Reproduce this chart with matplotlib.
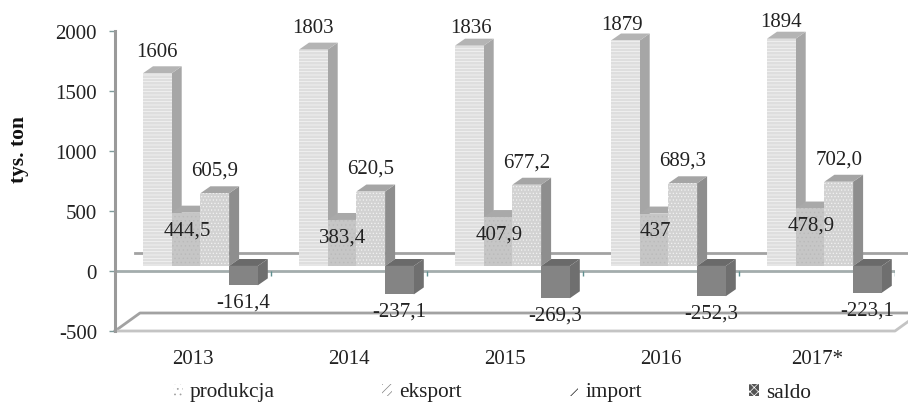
import matplotlib
matplotlib.use("Agg")
import matplotlib.pyplot as plt
from matplotlib.patches import Patch, Polygon
from matplotlib.transforms import ScaledTranslation

plt.rcParams["font.family"] = ["Liberation Serif", "DejaVu Serif"]
plt.rcParams["axes.unicode_minus"] = False
plt.rcParams["hatch.linewidth"] = 0.5

# Data
years = ["2013", "2014", "2015", "2016", "2017*"]
produkcja = [1606, 1803, 1836, 1879, 1894]
eksport = [444.5, 383.4, 407.9, 437, 478.9]
imports = [605.9, 620.5, 677.2, 689.3, 702.0]
saldo = [-161.4, -237.1, -269.3, -252.3, -223.1]

produkcja_labels = ["1606", "1803", "1836", "1879", "1894"]
eksport_labels = ["444,5", "383,4", "407,9", "437", "478,9"]
import_labels = ["605,9", "620,5", "677,2", "689,3", "702,0"]
saldo_labels = ["-161,4", "-237,1", "-269,3", "-252,3", "-223,1"]

series_names = ["produkcja", "eksport", "import", "saldo"]

W, H = 908, 403
fig = plt.figure(figsize=(W / 100, H / 100), dpi=100)
ax = fig.add_axes([115 / W, 1 - 331 / H, 780 / W, 300 / H])
ax.set_xlim(0, 5)
ax.set_ylim(-500, 2000)

# 3D look
bar_w = 28.7 / 156
gap = 28 / 156
base = 42
depth_x = 10 / 156
depth_y = 58
wall_x = 25 / 156
wall_y = 150

styles = [
    dict(face="#dedede", hatch="-----", edge="#f6f6f6", side="#a6a6a6", top="#b4b4b4"),
    dict(face="#c6c6c6", hatch="....", edge="#bababa", side="#a3a3a3", top="#a9a9a9"),
    dict(face="#d2d2d2", hatch=".....", edge="#f2f2f2", side="#8e8e8e", top="#a5a5a5"),
    dict(face="#848484", hatch=None, edge="#7c7c7c", side="#6f6f6f", top="#6a6a6a"),
]
legend_faces = ["white", "white", "white", "#555555"]
legend_hatch = [("...", "#a0a0a0"), ("////", "#808080"), ("//", "#111111"), ("xxxx", "#ffffff")]
all_series = [produkcja, eksport, imports, saldo]

# walls and floor
line_c = "#a2a2a2"
ax.plot([0, wall_x, 5 + wall_x], [-500, -500 + wall_y, -500 + wall_y], color=line_c, lw=2, clip_on=False, zorder=1)
ax.plot([0, 5, 5 + wall_x], [-500, -500, -500 + wall_y], color="#c4c4c4", lw=2, clip_on=False, zorder=1)
ax.plot([wall_x - 0.03, 5 + wall_x], [wall_y, wall_y], color=line_c, lw=2, clip_on=False, zorder=1)
ax.plot([0, 5], [0, 0], color="#a3adad", lw=2, zorder=1.5)
ax.vlines(range(1, 6), -45, 0, color="#5f8f8f", lw=1, zorder=1.5)

# bars
for s, values in enumerate(all_series):
    st = styles[s]
    for i, v in enumerate(values):
        x0 = i + gap + s * bar_w
        x1 = x0 + bar_w
        y_top = base + max(v, 0)
        y_low = base + min(v, 0)
        z = 3 + s
        ax.add_patch(Polygon([(x1, y_low), (x1 + depth_x, y_low + depth_y),
                              (x1 + depth_x, y_top + depth_y), (x1, y_top)],
                             facecolor=st["side"], edgecolor="none", zorder=z))
        ax.add_patch(Polygon([(x0, y_top), (x0 + depth_x, y_top + depth_y),
                              (x1 + depth_x, y_top + depth_y), (x1, y_top)],
                             facecolor=st["top"], edgecolor="none", zorder=z))
        ax.bar(x0, v, width=bar_w, bottom=base, align="edge", facecolor=st["face"],
               hatch=st["hatch"], edgecolor=st["edge"], linewidth=0, zorder=z + 0.5)

# value labels
label_size = 15
top_nudge = [(0, -1), (0, -1), (2, -5), (-3, -7), (0, -6)]  # px, labels sit unevenly in the original


def put_label(text, x, y, dx, dy):
    ax.annotate(text, (x, y), xytext=(dx * 0.72, dy * 0.72), textcoords="offset points",
                ha="center", va="center", fontsize=label_size, color="#222222", zorder=10)


for i in range(5):
    x0 = i + gap
    put_label(produkcja_labels[i], x0 + bar_w / 2, base + produkcja[i] + depth_y,
              top_nudge[i][0], 15 + top_nudge[i][1])
    put_label(eksport_labels[i], x0 + 1.5 * bar_w, base + eksport[i], 1, -18)
    put_label(import_labels[i], x0 + 2.5 * bar_w, base + imports[i] + depth_y, 0, 15)
    put_label(saldo_labels[i], x0 + 3.5 * bar_w, base + saldo[i], 0, -18)

# axes
for name in ["top", "right", "bottom"]:
    ax.spines[name].set_visible(False)
ax.spines["left"].set_color("#9a9a9a")
ax.spines["left"].set_linewidth(2.2)
ax.patch.set_visible(False)
ax.set_yticks([-500, 0, 500, 1000, 1500, 2000])
ax.set_xticks([i + 0.5 for i in range(5)], years)
ax.tick_params(axis="x", length=0, labelsize=15, pad=14, labelcolor="#222222")
ax.tick_params(axis="y", length=4.3, width=1, color="#7f9a9a", labelsize=15, pad=8.6, labelcolor="#222222")
for t in ax.get_yticklabels():
    t.set_transform(t.get_transform() + ScaledTranslation(0, -1 / 100, fig.dpi_scale_trans))
fig.text(19 / W, 1 - 149 / H, "tys. ton", rotation=90, ha="center", va="center",
         fontsize=15.5, fontweight="bold", color="#111111")

# legend
handles = [Patch(facecolor=f, hatch=h, edgecolor=c, linewidth=0) for f, (h, c) in zip(legend_faces, legend_hatch)]
fig.legend(handles, series_names, loc="center left", bbox_to_anchor=(173 / W, 1 - 393 / H), ncol=4,
           frameon=False, fontsize=15.3, handlelength=0.47, handleheight=0.5, handletextpad=0.33,
           columnspacing=5.03, borderpad=0, borderaxespad=0, labelcolor="#222222")

fig.savefig("out.png", dpi=100)
